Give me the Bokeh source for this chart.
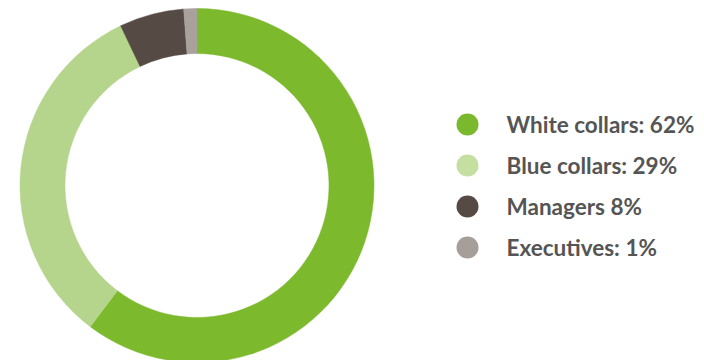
import numpy as np
from bokeh.plotting import figure
from bokeh.models import Range1d, ColumnDataSource
from bokeh.core.properties import value
from bokeh.embed import file_html
from bokeh.resources import INLINE

# Data
categories = ["White collars", "Blue collars", "Managers", "Executives"]
shares = [60.3, 32.6, 5.9, 1.2]          # wedge sizes as drawn (%)
labels = ["White collars: 62%", "Blue collars: 29%", "Managers 8%", "Executives: 1%"]
wedge_colors = ["#7cb92d", "#b5d48c", "#554a44", "#a9a19c"]
legend_colors = ["#7ab82e", "#c4dfa0", "#554a44", "#a59e99"]

W, H = 704, 360
p = figure(width=W, height=H, output_backend="svg", toolbar_location=None,
           x_range=Range1d(0, W), y_range=Range1d(H, 0), min_border=0)
p.axis.visible = False
p.grid.visible = False
p.outline_line_color = None
p.background_fill_color = "white"
p.border_fill_color = "white"

vals = np.array(shares, dtype=float)
frac = vals / vals.sum()
cum_end = np.cumsum(frac)
cum_start = cum_end - frac
# start at 12 o'clock, run clockwise
start = np.pi / 2 - cum_end * 2 * np.pi
end = np.pi / 2 - cum_start * 2 * np.pi

cx, cy = 196.5, 185
src = ColumnDataSource(dict(x=[cx] * len(vals), y=[cy] * len(vals),
                            start=start, end=end, color=wedge_colors))
p.annular_wedge(x="x", y="y", inner_radius=132, outer_radius=177,
                start_angle="start", end_angle="end", direction="anticlock",
                fill_color="color", line_color="color", line_width=0.5, source=src)

# Legend (manual)
lx, ly0, dy = 467, 124, 41
ys = [ly0 + i * dy for i in range(len(labels))]
lsrc = ColumnDataSource(dict(x=[lx] * len(labels), tx=[506] * len(labels), y=ys,
                             color=legend_colors, label=labels))
p.scatter(x="x", y="y", size=22, marker="circle", fill_color="color",
          line_color=None, source=lsrc)
p.text(x="tx", y="y", text="label", text_font=value("Lato"), text_font_style="bold",
       text_font_size="22.5px", text_color="#555555", text_baseline="middle",
       text_align="left", source=lsrc)

open("out.html", "w").write(file_html(p, INLINE))
